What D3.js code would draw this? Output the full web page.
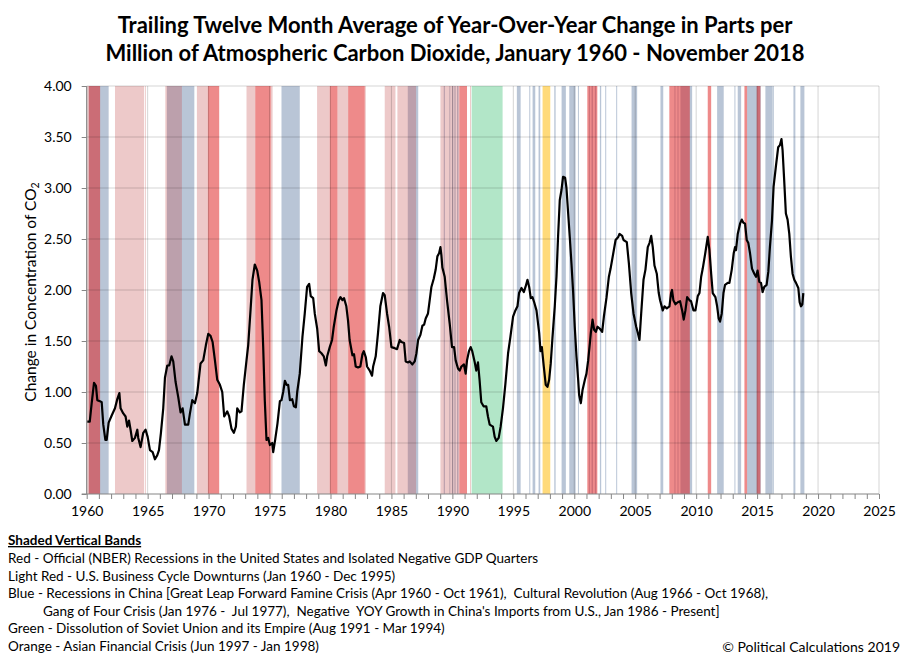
<!DOCTYPE html>
<html>
<head>
<meta charset="utf-8">
<script src="https://cdn.jsdelivr.net/npm/d3@7"></script>
<style>
  body { margin: 0; background: #fff; }
  svg { font-family: Lato, "Open Sans", sans-serif; }
  .pre { white-space: pre; }
</style>
</head>
<body>
<svg id="chart" width="911" height="661"></svg>
<script>
// Trailing twelve month average of YoY change in CO2 ppm
var sampleYears = [
  1960.05,1960.25,1960.41,1960.6,1960.76,1960.87,1961.09,1961.23,1961.36,1961.53,1961.64,1961.8,
  1962.05,1962.32,1962.51,1962.68,1962.78,1963.0,1963.19,1963.33,1963.47,1963.6,1963.74,1963.96,
  1964.15,1964.23,1964.42,1964.64,1964.83,1965.0,1965.19,1965.41,1965.6,1965.79,1965.93,1966.09,
  1966.28,1966.42,1966.61,1966.77,1966.96,1967.1,1967.29,1967.51,1967.7,1967.87,1968.06,1968.33,
  1968.47,1968.66,1968.88,1969.07,1969.34,1969.56,1969.78,1969.97,1970.16,1970.33,1970.52,1970.71,
  1970.93,1971.12,1971.28,1971.53,1971.69,1971.88,1972.07,1972.24,1972.35,1972.56,1972.7,1972.89,
  1973.11,1973.25,1973.44,1973.6,1973.79,1973.99,1974.15,1974.34,1974.48,1974.61,1974.75,1974.89,
  1975.03,1975.22,1975.3,1975.46,1975.65,1975.85,1975.98,1976.12,1976.26,1976.4,1976.53,1976.67,
  1976.86,1977.0,1977.16,1977.27,1977.48,1977.7,1977.89,1978.08,1978.25,1978.38,1978.58,1978.71,
  1978.91,1979.07,1979.26,1979.45,1979.62,1979.73,1979.94,1980.13,1980.27,1980.49,1980.68,1980.82,
  1980.98,1981.11,1981.3,1981.44,1981.57,1981.8,1981.93,1982.07,1982.26,1982.45,1982.62,1982.73,
  1982.9,1983.0,1983.22,1983.41,
  1983.5,1983.71,1983.9,1984.09,1984.31,1984.45,1984.64,1984.81,1985.0,1985.27,1985.46,1985.68,
  1985.82,1986.04,1986.17,1986.37,1986.5,1986.72,1986.91,1987.05,1987.19,1987.38,1987.54,1987.68,
  1987.81,1988.0,1988.14,1988.28,1988.47,1988.63,1988.77,1988.91,1989.02,1989.1,1989.18,1989.37,
  1989.56,1989.78,1989.97,1990.14,1990.27,1990.46,1990.6,1990.74,1990.95,1991.09,1991.2,1991.36,
  1991.5,1991.63,1991.82,1991.96,1992.1,1992.23,1992.37,1992.56,1992.78,1992.92,1993.06,1993.33,
  1993.47,1993.61,1993.8,1993.96,1994.15,1994.35,1994.57,1994.76,1994.98,1995.17,1995.34,1995.47,
  1995.67,1995.86,1996.0,1996.16,1996.3,1996.43,1996.57,1996.71,1996.9,1997.12,1997.23,1997.34,
  1997.5,1997.66,1997.8,1997.94,1998.07,1998.21,1998.4,1998.54,1998.67,1998.81,1998.95,1999.08,
  1999.25,1999.36,1999.5,1999.63,1999.77,1999.91,2000.04,2000.18,2000.32,2000.4,2000.54,2000.68,
  2000.87,2001.0,2001.14,2001.28,2001.36,2001.5,2001.63,2001.77,2001.91,2002.1,2002.29,2002.43,
  2002.65,2002.84,2002.98,2003.2,2003.39,2003.61,
  2003.71,2003.93,2004.04,2004.31,2004.48,2004.67,2004.86,2005.08,2005.21,2005.35,2005.49,2005.68,
  2005.84,2006.03,2006.17,2006.31,2006.44,2006.58,2006.77,2006.93,2007.04,2007.26,2007.4,2007.59,
  2007.81,2007.94,2008.02,2008.13,2008.3,2008.49,2008.68,2008.85,2008.98,2009.12,2009.26,2009.45,
  2009.58,2009.78,2009.94,2010.13,2010.27,2010.41,2010.54,2010.76,2010.95,2011.09,2011.23,2011.36,
  2011.58,2011.72,2011.85,2011.96,2012.1,2012.24,2012.37,2012.59,2012.73,2012.92,2013.08,2013.19,
  2013.27,2013.41,2013.6,2013.74,2013.87,2014.01,2014.15,2014.28,2014.42,2014.58,2014.77,2014.91,
  2015.04,2015.18,2015.32,2015.45,2015.59,2015.78,2015.92,2016.05,2016.22,2016.35,2016.54,2016.73,
  2016.87,2017.0,2017.09,2017.22,2017.36,2017.5,2017.64,2017.77,2017.91,2018.05,2018.19,2018.38,
  2018.49,2018.6,2018.71,2018.79
];
var ppmChange = [
  0.71,0.71,0.89,1.09,1.06,0.92,0.91,0.90,0.68,0.53,0.53,0.70,
  0.77,0.84,0.93,0.99,0.84,0.79,0.76,0.66,0.72,0.63,0.52,0.55,
  0.63,0.55,0.46,0.60,0.63,0.56,0.43,0.41,0.34,0.38,0.43,0.60,
  0.84,1.14,1.26,1.26,1.35,1.30,1.10,0.95,0.80,0.84,0.68,0.68,
  0.79,0.92,0.89,0.99,1.28,1.31,1.46,1.57,1.55,1.49,1.31,1.12,
  1.07,1.00,0.76,0.81,0.76,0.64,0.60,0.66,0.84,0.80,0.81,1.07,
  1.31,1.46,1.80,2.10,2.25,2.19,2.08,1.90,1.44,0.92,0.53,0.55,
  0.48,0.50,0.41,0.53,0.69,0.91,0.92,1.00,1.11,1.07,1.07,0.92,
  0.93,0.86,0.85,1.00,1.18,1.54,1.77,2.03,2.06,1.94,1.92,1.77,
  1.62,1.40,1.38,1.35,1.26,1.35,1.44,1.51,1.64,1.80,1.90,1.93,
  1.90,1.92,1.84,1.70,1.51,1.36,1.37,1.25,1.24,1.25,1.37,1.40,
  1.34,1.25,1.21,1.16,
  1.25,1.35,1.58,1.84,1.97,1.95,1.77,1.64,1.44,1.43,1.42,1.51,
  1.49,1.48,1.30,1.29,1.30,1.27,1.30,1.38,1.51,1.56,1.65,1.66,
  1.72,1.77,1.90,2.03,2.11,2.20,2.33,2.36,2.42,2.34,2.22,2.13,
  1.90,1.67,1.44,1.44,1.31,1.23,1.21,1.25,1.27,1.18,1.31,1.40,
  1.44,1.40,1.30,1.21,1.29,1.12,0.90,0.86,0.86,0.76,0.68,0.66,
  0.56,0.52,0.55,0.66,0.84,1.08,1.38,1.54,1.74,1.80,1.84,1.97,
  2.02,1.98,2.03,2.10,2.03,1.92,1.93,1.88,1.80,1.58,1.40,1.44,
  1.25,1.07,1.05,1.12,1.28,1.53,1.84,2.13,2.52,2.88,2.98,3.11,
  3.10,3.00,2.75,2.52,2.26,1.97,1.64,1.35,1.12,0.97,0.89,1.02,
  1.12,1.18,1.31,1.48,1.58,1.71,1.61,1.59,1.64,1.62,1.59,1.74,
  1.93,2.13,2.21,2.36,2.49,2.52,
  2.55,2.53,2.49,2.47,2.26,1.97,1.77,1.64,1.58,1.51,1.77,2.10,
  2.20,2.42,2.46,2.53,2.42,2.24,2.16,1.97,1.90,1.80,1.84,1.82,
  1.84,1.97,2.00,1.90,1.86,1.88,1.89,1.80,1.71,1.80,1.93,1.90,
  1.89,1.80,1.80,1.94,1.97,2.13,2.21,2.37,2.52,2.39,2.16,1.97,
  1.93,1.84,1.72,1.69,1.77,1.97,2.05,2.07,2.07,2.20,2.36,2.42,
  2.39,2.55,2.65,2.69,2.66,2.65,2.49,2.46,2.36,2.21,2.16,2.13,
  2.19,2.08,2.07,1.98,2.03,2.05,2.18,2.42,2.68,3.01,3.21,3.40,
  3.42,3.48,3.37,3.08,2.75,2.69,2.55,2.33,2.16,2.10,2.07,2.02,
  1.88,1.84,1.86,1.97
];

// Shaded bands, [start, end] in decimal years
var lightRedBands = [
  [1960.05,1960.17],[1962.32,1964.70],[1964.77,1964.85],[1966.45,1967.81],[1969.04,1969.94],
  [1973.11,1973.83],[1975.1,1975.25],[1978.9,1979.94],[1980.57,1981.45],[1982.81,1982.9],
  [1984.45,1985.33],[1985.49,1987.02],[1989.02,1990.57],[1991.45,1991.53]
];
var redBands = [
  [1960.17,1961.1],[1969.94,1970.87],[1973.83,1975.1],[1979.94,1980.57],[1981.45,1982.81],
  [1990.57,1991.2],[2001.07,2001.89],[2007.8,2009.48],[2010.95,2011.23],[2013.96,2014.18],
  [2014.97,2015.27]
];
var blueBands = [
  [1960.17,1961.8],[1966.58,1968.83],[1975.98,1977.48],[1986.34,1987.2],
  [1989.29,1989.39],[1989.75,1989.83],[1989.97,1990.08],[1990.16,1990.27],[1990.38,1990.5],
  [1995.29,1995.6],[1996.31,1996.39],[1996.58,1996.8],[1997.07,1997.21],[1998.36,1998.47],
  [1998.96,1999.31],[1999.59,2000.11],[2000.3,2000.38],[2001.2,2001.28],[2001.42,2001.53],
  [2001.69,2001.8],[2002.1,2002.21],[2002.54,2002.62],[2003.44,2003.52],[2004.7,2005.16],
  [2007.07,2007.3],[2008.22,2008.3],[2008.47,2008.55],[2008.71,2009.67],[2011.72,2012.26],
  [2013.14,2013.22],[2013.41,2013.69],[2014.18,2015.3],[2015.68,2016.28],[2016.3,2016.37],
  [2017.98,2018.14],[2018.55,2018.88]
];
var greenBands = [[1991.58,1994.12]];
var orangeBands = [[1997.4,1998.03]];

var titleLines = [
  'Trailing Twelve Month Average of Year-Over-Year Change in Parts per',
  'Million of Atmospheric Carbon Dioxide, January 1960 - November 2018'
];
var legendLines = [
  'Red - Official (NBER) Recessions in the United States and Isolated Negative GDP Quarters',
  'Light Red - U.S. Business Cycle Downturns (Jan 1960 - Dec 1995)',
  'Blue - Recessions in China [Great Leap Forward Famine Crisis (Apr 1960 - Oct 1961),  Cultural Revolution (Aug 1966 - Oct 1968),',
  'Gang of Four Crisis (Jan 1976 -  Jul 1977),  Negative  YOY Growth in China\'s Imports from U.S., Jan 1986 - Present]',
  'Green - Dissolution of Soviet Union and its Empire (Aug 1991 - Mar 1994)',
  'Orange - Asian Financial Crisis (Jun 1997 - Jan 1998)'
];
var legendIndent = [0, 0, 0, 35, 0, 0];
var yTicks = [0, 0.5, 1, 1.5, 2, 2.5, 3, 3.5, 4];
var xLabelYears = d3.range(1960, 2026, 5);
var xMinorYears = d3.range(1960, 2026, 1);

var margin = {left: 86.7, right: 32, top: 86, bottom: 167};
var width = 911, height = 661;

var svg = d3.select('#chart');

var x = d3.scaleLinear().domain([1960, 2025]).range([margin.left, width - margin.right]);
var y = d3.scaleLinear().domain([0, 4]).range([height - margin.bottom, margin.top]);

var plot = svg.append('g').attr('class', 'plot');

function drawBands(bands, fill, opacity) {
  plot.append('g').selectAll('rect').data(bands).enter()
    .append('rect')
    .attr('x', function(d) { return x(d[0]); })
    .attr('width', function(d) { return x(d[1]) - x(d[0]); })
    .attr('y', y(4))
    .attr('height', y(0) - y(4))
    .attr('fill', fill)
    .attr('fill-opacity', opacity);
}

drawBands(blueBands, '#b9c5d6', 1);
drawBands(lightRedBands, 'rgb(195,75,75)', 0.3);
drawBands(redBands, 'rgb(221,21,21)', 0.5);
drawBands(greenBands, '#b2e6c8', 1);
drawBands(orangeBands, '#ffda7a', 1);

// gridlines
plot.append('g').selectAll('line').data(yTicks.slice(1)).enter()
  .append('line')
  .attr('x1', x(1960)).attr('x2', x(2025))
  .attr('y1', function(d) { return y(d); }).attr('y2', function(d) { return y(d); })
  .attr('stroke', 'rgba(0,0,0,0.17)').attr('stroke-width', 1);
plot.append('g').selectAll('line').data(xLabelYears.slice(1)).enter()
  .append('line')
  .attr('x1', function(d) { return x(d); }).attr('x2', function(d) { return x(d); })
  .attr('y1', y(0)).attr('y2', y(4))
  .attr('stroke', 'rgba(0,0,0,0.17)').attr('stroke-width', 1);

// axes
var yAxis = d3.axisLeft(y).tickValues(yTicks).tickFormat(d3.format('.2f')).tickSize(5).tickPadding(10);
var gy = svg.append('g').attr('transform', 'translate(' + x(1960) + ',0)').call(yAxis);

var xMinor = d3.axisBottom(x).tickValues(xMinorYears).tickFormat('').tickSize(5);
var gxm = svg.append('g').attr('transform', 'translate(0,' + y(0) + ')').call(xMinor);
var xAxis = d3.axisBottom(x).tickValues(xLabelYears).tickFormat(d3.format('d')).tickSize(0).tickPadding(12);
var gx = svg.append('g').attr('transform', 'translate(0,' + y(0) + ')').call(xAxis);
gx.select('.domain').remove();

[gy, gxm].forEach(function(g) {
  g.select('.domain').attr('stroke', '#868686').attr('stroke-width', 1.2);
  g.selectAll('.tick line').attr('stroke', '#868686');
});
gy.select('.domain').attr('d', 'M0,' + y(4) + 'V' + y(0));
gxm.select('.domain').attr('d', 'M' + (x(1960) - 5) + ',0H' + x(2025));
[gy, gx].forEach(function(g) {
  g.selectAll('.tick text').attr('font-size', 14).attr('fill', '#000')
    .attr('font-family', 'Lato, sans-serif');
});

// line
var points = sampleYears.map(function(t, i) { return [t, ppmChange[i]]; });
var line = d3.line().x(function(d) { return x(d[0]); }).y(function(d) { return y(d[1]); });
svg.append('path').datum(points)
  .attr('d', line)
  .attr('fill', 'none')
  .attr('stroke', '#000')
  .attr('stroke-width', 2.2)
  .attr('stroke-linejoin', 'round');

// title
svg.append('g').selectAll('text').data(titleLines).enter()
  .append('text')
  .attr('x', 455).attr('y', function(d, i) { return 33 + i * 28; })
  .attr('text-anchor', 'middle')
  .attr('font-size', 22).attr('font-weight', 'bold').attr('fill', '#000')
  .text(function(d) { return d; });

// y label
var yl = svg.append('text')
  .attr('transform', 'translate(36,292) rotate(-90)')
  .attr('text-anchor', 'middle')
  .attr('font-size', 15.5).attr('fill', '#000');
yl.append('tspan').text('Change in Concentration of CO');
yl.append('tspan').attr('font-size', 10.5).attr('dy', 3).text('2');

// legend
svg.append('text')
  .attr('x', 8).attr('y', 545)
  .attr('font-size', 13.5).attr('font-weight', 'bold')
  .attr('text-decoration', 'underline')
  .text('Shaded Vertical Bands');
svg.append('g').selectAll('text').data(legendLines).enter()
  .append('text')
  .attr('class', 'pre')
  .attr('x', function(d, i) { return 8 + legendIndent[i]; })
  .attr('y', function(d, i) { return 563 + i * 17.6; })
  .attr('font-size', 13.5).attr('fill', '#000')
  .text(function(d) { return d; });

svg.append('text')
  .attr('x', 900).attr('y', 652)
  .attr('text-anchor', 'end')
  .attr('font-size', 14).attr('fill', '#000')
  .text('\u00a9 Political Calculations 2019');
</script>
</body>
</html>
